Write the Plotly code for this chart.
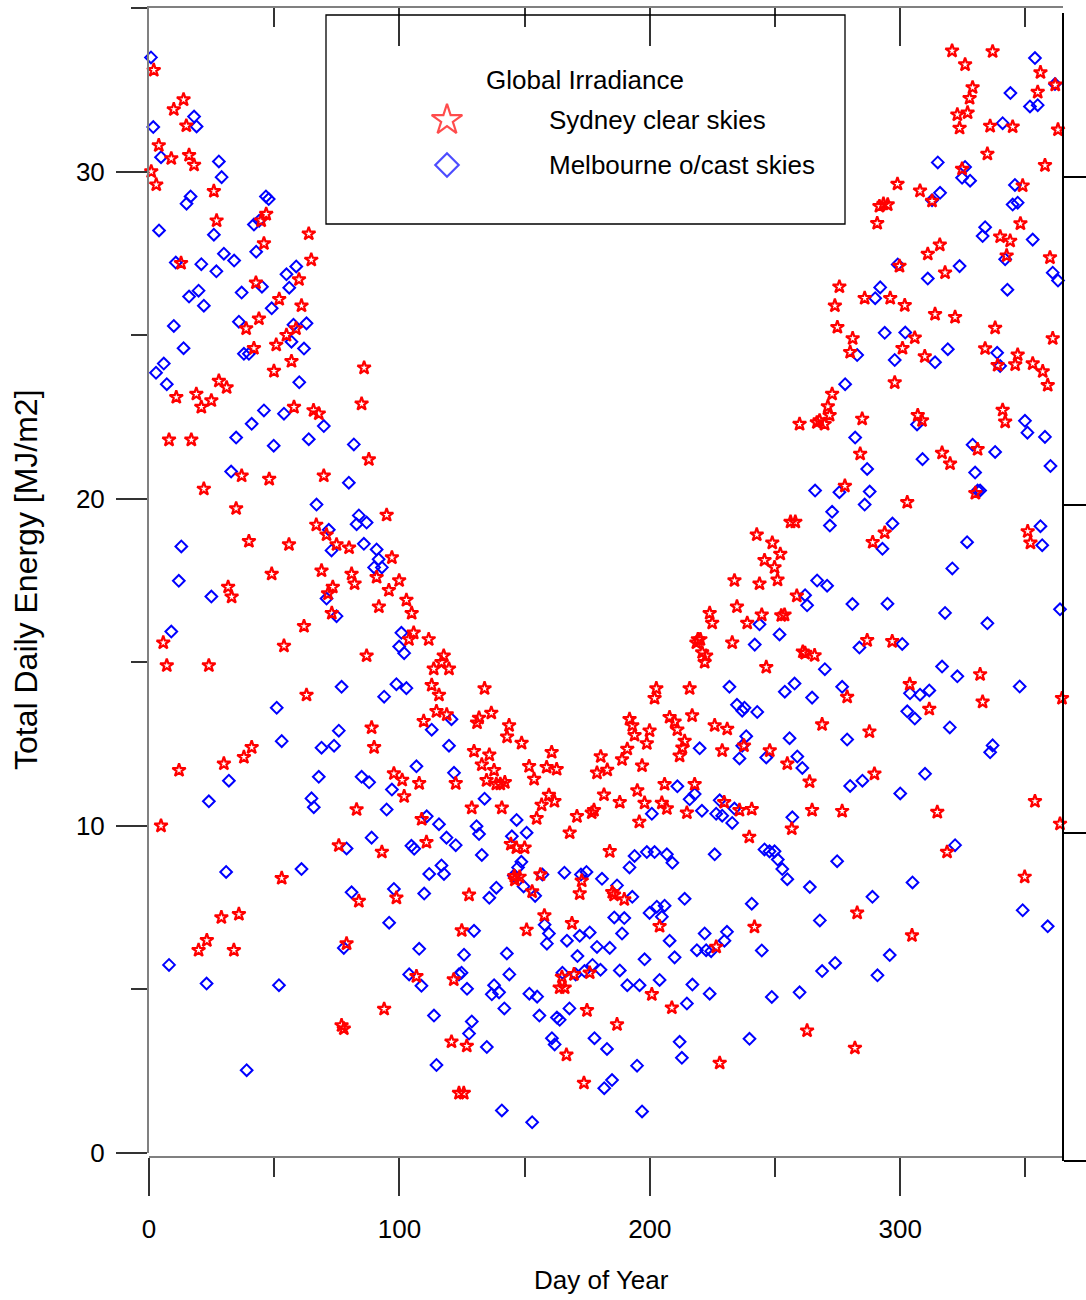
import plotly.graph_objects as go

# ---------------- data (day of year, total daily energy MJ/m2) ----------------
sydney = [
    (1.9,33.1),(13.8,32.2),(9.9,31.9),(14.9,31.4),(3.9,30.8),(8.9,30.4),(16.0,30.5),(18.0,30.2),(0.9,30.0),(2.9,29.6),
    (25.9,29.4),(27.0,28.5),(44.8,28.5),(46.8,28.7),(45.9,27.8),(63.8,28.1),(64.8,27.3),(12.8,27.2),(42.7,26.6),(59.9,26.7),
    (52.0,26.1),(60.9,25.9),(43.9,25.5),(38.8,25.2),(58.7,25.2),(54.9,25.0),(50.8,24.7),(41.9,24.6),(56.9,24.2),(49.9,23.9),
    (85.9,24.0),(27.9,23.6),(31.0,23.4),(18.9,23.2),(10.9,23.1),(24.9,23.0),(20.9,22.8),(84.9,22.9),(57.9,22.8),(65.7,22.7),
    (67.8,22.6),(8.0,21.8),(16.9,21.8),(87.8,21.2),(37.0,20.7),(48.0,20.6),(69.8,20.7),(21.9,20.3),(34.8,19.7),(94.9,19.5),
    (66.8,19.2),(70.9,18.9),(74.9,18.6),(79.9,18.5),(39.9,18.7),(55.9,18.6),(97.0,18.2),(49.0,17.7),(68.9,17.8),(80.9,17.7),
    (90.9,17.6),(99.9,17.5),(82.1,17.4),(31.6,17.3),(73.4,17.3),(95.8,17.2),
    (33.0,17.0),(71.5,17.1),(91.8,16.7),(102.8,16.9),(104.9,16.5),(105.7,15.9),(103.8,15.7),(111.7,15.7),(5.7,15.6),(7.1,14.9),
    (23.9,14.9),(53.9,15.5),(61.9,16.1),(62.9,14.0),(73.0,16.5),(86.9,15.2),(117.7,15.2),(116.8,15.0),(113.7,14.8),(119.8,14.8),
    (112.9,14.3),(115.8,14.0),(114.8,13.5),(118.9,13.4),(109.7,13.2),(88.9,13.0),(89.9,12.4),(41.0,12.4),(37.9,12.1),(29.9,11.9),
    (12.0,11.7),(97.8,11.6),(101.1,11.4),(107.9,11.3),(122.5,11.3),(101.9,10.9),(82.9,10.5),(108.9,10.2),(4.8,10.0),(110.8,9.5),
    (75.8,9.4),(93.0,9.2),(53.0,8.4),(98.8,7.8),(83.8,7.7),(35.9,7.3),(28.9,7.2),(23.1,6.5),(19.8,6.2),(33.9,6.2),
    (78.9,6.4),(106.8,5.4),(121.7,5.3),(93.9,4.4),(76.9,3.9),(77.8,3.8),(120.8,3.4),
    (233.8,17.5),(243.8,17.4),(234.8,16.7),(223.9,16.5),(224.9,16.2),(244.7,16.45),(238.9,16.2),(232.9,15.6),(219.2,15.7),(220.2,15.7),
    (218.6,15.6),(220.9,15.3),(222.5,15.2),(221.9,15.0),(246.5,14.85),(134.0,14.2),(202.6,14.2),(201.9,13.9),(215.9,14.2),(131.8,13.3),
    (131.0,13.15),(136.7,13.45),(143.8,13.07),(143.0,12.72),(191.9,13.26),(193.0,13.07),(193.9,12.77),(199.9,12.91),(198.8,12.52),(207.9,13.32),
    (209.9,13.18),(211.0,12.94),(213.9,12.59),(213.0,12.39),(211.9,12.14),(216.9,13.37),(225.9,13.07),(230.9,12.96),(228.9,12.3),(237.6,12.45),
    (148.8,12.53),(129.8,12.28),(135.9,12.17),(160.8,12.25),(191.0,12.35),(188.9,12.03),(180.4,12.12),(178.9,11.62),(183.0,11.71),(132.9,11.87),
    (151.8,11.82),(158.8,11.79),(162.8,11.73),(196.9,11.84),(137.8,11.7),(153.8,11.43),(134.8,11.39),(138.7,11.28),(140.3,11.28),(142.1,11.33),
    (195.0,11.08),(205.9,11.27),(217.9,11.27),(159.7,10.94),(161.9,10.75),(156.8,10.64),(128.9,10.55),(140.9,10.55),(181.7,10.95),(188.0,10.72),
    (197.9,10.7),(204.8,10.7),(206.8,10.53),(229.7,10.72),(235.8,10.48),(240.7,10.51),(214.8,10.4),(195.8,10.12),(177.7,10.48),(176.8,10.4),
    (170.9,10.29),(154.8,10.23),(168.0,9.79),(239.7,9.66),(144.5,9.44),(146.7,9.33),(150.0,9.33),(184.0,9.22),(145.9,8.46),(148.0,8.44),
    (146.1,8.35),(156.3,8.51),(172.8,8.32),(172.0,7.93),(153.0,7.99),(127.8,7.89),(185.0,7.97),(185.7,7.89),(189.8,7.75),(157.9,7.26),
    (124.9,6.8),(150.8,6.82),(168.9,7.02),(203.9,6.93),(241.8,6.91),(226.5,6.3),(164.9,5.38),(164.0,5.05),(166.0,5.05),(169.7,5.46),
    (176.0,5.51),(200.8,4.85),(208.8,4.44),(174.9,4.36),(186.9,3.93),(126.9,3.27),(166.7,3.0),(227.9,2.75),(173.7,2.14),(123.8,1.83),
    (125.7,1.83),(242.7,18.9),
    (320.7,33.69),(336.9,33.67),(325.9,33.27),(356.0,33.03),(361.9,32.65),(328.9,32.57),(327.7,32.24),(354.9,32.43),(322.8,31.74),(326.9,31.8),
    (323.7,31.33),(335.9,31.39),(344.9,31.37),(363.0,31.28),(334.8,30.54),(357.8,30.19),(324.7,30.08),(298.9,29.62),(307.9,29.41),(312.7,29.1),
    (348.9,29.57),(291.7,28.94),(293.3,29.01),(295.0,28.99),(290.8,28.42),(348.0,28.41),(339.9,28.01),(343.9,27.88),(315.8,27.76),(311.0,27.48),
    (359.8,27.37),(342.5,27.43),(299.7,27.11),(317.9,26.91),(275.7,26.48),(273.9,25.9),(285.8,26.13),(296.0,26.13),(301.8,25.91),(313.9,25.64),
    (321.9,25.55),(274.9,25.24),(337.9,25.22),(281.0,24.9),(280.0,24.48),(305.8,24.92),(300.9,24.6),(309.8,24.35),(360.9,24.9),(333.9,24.59),
    (346.9,24.4),(345.9,24.1),(338.9,24.08),(352.9,24.13),(356.9,23.89),(358.9,23.47),(297.8,23.55),(272.8,23.2),(271.1,22.82),(271.8,22.55),
    (259.8,22.28),(266.7,22.33),(267.8,22.39),(269.8,22.28),(284.8,22.44),(307.0,22.55),(308.7,22.39),(340.9,22.71),(341.9,22.35),(284.0,21.37),
    (316.7,21.4),(319.9,21.07),(330.9,21.51),(277.9,20.39),(302.8,19.89),(330.0,20.17),(256.2,19.29),(258.1,19.29),(293.8,18.96),(289.0,18.67),
    (350.9,19.0),(352.0,18.65),(248.9,18.65),(252.1,18.31),(245.8,18.12),(249.8,17.9),(251.0,17.52),
    (258.7,17.03),(252.5,16.43),(253.8,16.45),(261.1,15.32),(262.0,15.28),(265.8,15.21),(286.8,15.67),(296.8,15.64),(303.8,14.33),(331.9,14.63),
    (332.9,13.79),(364.6,13.9),(278.8,13.94),(311.6,13.57),(268.8,13.1),(287.7,12.88),(247.9,12.3),(254.9,11.9),(263.8,11.35),(289.7,11.59),
    (264.8,10.48),(276.8,10.45),(314.8,10.42),(353.8,10.75),(256.7,9.91),(363.8,10.06),(318.7,9.2),(349.7,8.44),(282.8,7.34),(304.7,6.65),
    (262.8,3.74),(281.9,3.21),
]

melbourne = [
    (0.8,33.49),(1.7,31.36),(18.0,31.68),(19.0,31.38),(4.8,30.44),(27.9,30.31),(29.0,29.83),(16.6,29.24),(15.0,29.02),(46.7,29.24),
    (47.8,29.16),(4.0,28.2),(25.9,28.07),(41.9,28.38),(44.0,28.5),(42.8,27.55),(29.9,27.49),(34.0,27.28),(10.7,27.22),(20.9,27.17),
    (26.9,26.95),(54.9,26.86),(58.8,27.1),(56.0,26.45),(45.1,26.48),(37.0,26.3),(19.8,26.36),(16.0,26.18),(21.9,25.9),(49.0,25.82),
    (9.9,25.28),(35.9,25.41),(57.7,25.32),(62.9,25.36),(56.9,24.8),(61.9,24.59),(13.8,24.6),(37.9,24.43),(39.9,24.43),(5.9,24.13),
    (2.8,23.85),(7.1,23.5),(60.0,23.56),(45.9,22.7),(41.0,22.29),(53.9,22.6),(69.8,22.22),(34.8,21.87),(49.8,21.62),(63.8,21.82),
    (81.8,21.66),(79.8,20.49),(32.8,20.83),(66.9,19.82),(83.8,19.49),(82.9,19.22),(86.9,19.27),(71.8,19.05),(72.9,18.42),(85.8,18.62),
    (90.9,18.45),(91.7,18.15),(89.9,17.9),(93.0,17.9),(12.9,18.54),(11.9,17.49),
    (24.9,17.01),(8.9,15.94),(76.9,14.25),(51.0,13.61),(93.9,13.95),(98.8,14.33),(102.8,14.21),(100.8,15.9),(99.9,15.48),(101.9,15.28),
    (70.9,16.95),(74.9,16.41),(53.0,12.59),(75.8,12.91),(68.9,12.39),(73.9,12.45),(67.8,11.5),(64.9,10.84),(65.8,10.57),(31.9,11.38),
    (23.9,10.75),(84.9,11.5),(87.9,11.33),(97.0,11.11),(94.9,10.5),(106.8,11.82),(112.9,12.94),(120.8,13.26),(119.8,12.45),(121.8,11.62),
    (110.9,10.29),(115.8,10.05),(118.8,9.64),(122.5,9.41),(88.9,9.64),(78.9,9.31),(104.8,9.39),(105.9,9.3),(116.8,8.79),(117.8,8.53),
    (111.9,8.53),(109.9,7.93),(97.8,8.07),(80.9,7.97),(60.9,8.68),(30.8,8.59),(95.9,7.04),(77.8,6.27),(107.9,6.24),(103.9,5.46),
    (108.8,5.11),(8.0,5.75),(23.0,5.18),(51.9,5.13),(113.8,4.2),(114.8,2.69),(39.0,2.53),
    (243.8,16.16),(241.9,15.54),(231.8,14.25),(234.8,13.7),(237.8,13.61),(236.9,13.52),(242.9,13.48),(238.5,12.74),(236.9,12.45),(235.8,12.06),
    (246.5,12.09),(219.9,12.37),(134.0,10.83),(211.0,11.21),(217.9,10.97),(215.9,10.81),(200.8,10.37),(220.8,10.46),(227.9,10.78),(226.5,10.37),
    (228.9,10.31),(233.8,10.53),(232.9,10.09),(130.8,9.99),(131.8,9.75),(146.8,10.18),(144.9,9.68),(150.8,9.79),(132.9,9.11),(148.7,8.9),
    (147.4,8.73),(145.7,8.48),(149.6,8.15),(138.7,8.11),(135.9,7.8),(154.2,7.86),(157.1,8.51),(165.9,8.57),(172.5,8.51),(174.7,8.59),
    (180.9,8.38),(186.9,8.18),(193.0,7.83),(191.9,8.73),(193.9,9.08),(198.8,9.2),(201.9,9.2),(206.8,9.13),(209.0,8.87),(225.9,9.13),
    (213.9,7.77),(240.7,7.62),(199.9,7.34),(202.8,7.53),(205.9,7.56),(204.8,7.22),(185.8,7.2),(189.8,7.18),(188.9,6.71),(158.0,6.98),
    (159.7,6.71),(158.9,6.4),(166.9,6.49),(172.0,6.64),(176.0,6.74),(171.1,6.02),(178.9,6.3),(184.0,6.27),(207.9,6.49),(221.9,6.71),
    (230.8,6.76),(229.8,6.49),(218.8,6.2),(222.5,6.2),(224.5,6.17),(244.7,6.19),(197.9,5.92),(209.9,5.98),(125.8,6.06),(129.8,6.79),
    (142.9,6.1),(143.9,5.46),(124.8,5.51),(123.8,5.46),(127.0,5.02),(137.8,5.13),(136.9,4.85),(139.8,4.91),(141.9,4.42),(151.9,4.87),
    (155.0,4.78),(155.9,4.2),(162.9,4.14),(164.0,4.07),(167.9,4.42),(165.1,5.51),(170.4,5.46),(173.9,5.56),(177.1,5.75),(180.3,5.6),
    (188.0,5.58),(191.0,5.13),(195.9,5.13),(203.9,5.29),(217.0,5.15),(214.8,4.57),(223.9,4.87),(127.8,3.65),(128.9,4.02),(134.9,3.24),
    (160.9,3.51),(162.0,3.32),(177.9,3.51),(182.9,3.18),(194.9,2.67),(211.9,3.4),(212.8,2.91),(239.8,3.49),(181.8,1.98),(184.9,2.23),
    (140.9,1.3),(196.9,1.27),(153.0,0.94),
    (353.8,33.47),(361.8,32.68),(344.0,32.4),(351.8,31.99),(354.9,32.03),(340.9,31.48),(315.0,30.28),(325.9,30.14),(324.7,29.81),(327.9,29.72),
    (345.8,29.59),(344.9,28.99),(346.9,29.05),(315.9,29.35),(312.7,29.12),(333.9,28.3),(332.9,28.03),(352.9,27.92),(341.9,27.32),(360.9,26.91),
    (363.0,26.67),(299.0,27.16),(323.7,27.11),(311.0,26.73),(292.0,26.46),(290.0,26.13),(342.8,26.39),(293.8,25.07),(302.0,25.08),(282.8,24.39),
    (297.8,24.24),(313.9,24.17),(319.0,24.57),(338.7,24.46),(339.9,24.06),(278.0,23.5),(349.8,22.38),(350.8,22.02),(357.8,21.89),(360.0,21.0),
    (306.7,22.27),(328.9,21.65),(337.9,21.43),(282.0,21.87),(308.9,21.21),(329.9,20.8),(330.9,20.25),(331.9,20.25),(286.8,20.91),(266.0,20.25),
    (275.7,20.2),(287.8,20.22),(285.8,19.82),(272.8,19.6),(271.9,19.18),(296.9,19.24),(292.9,18.47),(326.7,18.67),(356.0,19.16),(356.7,18.58),
    (320.8,17.87),(266.8,17.5),(270.8,17.34),
    (262.0,17.05),(262.8,16.74),(280.9,16.78),(294.9,16.79),(317.9,16.51),(334.8,16.19),(363.8,16.62),(251.8,15.85),(283.7,15.45),(300.8,15.56),
    (269.9,14.79),(316.7,14.87),(322.8,14.57),(347.7,14.26),(253.9,14.1),(257.8,14.35),(264.8,13.92),(276.8,14.25),(303.9,14.05),(307.9,14.01),
    (311.6,14.14),(302.8,13.5),(305.8,13.28),(319.8,13.01),(255.8,12.68),(278.8,12.64),(336.9,12.46),(335.9,12.25),(258.9,12.12),(260.9,11.77),
    (280.0,11.22),(284.9,11.38),(309.9,11.59),(300.0,10.99),(256.9,10.26),(245.8,9.28),(247.8,9.22),(249.8,9.22),(251.1,8.97),(252.9,8.68),
    (254.9,8.37),(263.9,8.13),(274.8,8.92),(321.9,9.41),(304.9,8.27),(288.9,7.83),(267.9,7.11),(348.9,7.42),(358.9,6.93),(268.8,5.56),
    (274.0,5.81),(295.8,6.05),(290.9,5.43),(259.8,4.91),(248.7,4.77),
]

sydney_day = [p[0] for p in sydney]
sydney_mj = [p[1] for p in sydney]
melbourne_day = [p[0] for p in melbourne]
melbourne_mj = [p[1] for p in melbourne]

x_range = [0, 365]
y_range = [0, 35]
x_major = 100
x_minor = 50
y_major = 10
y_minor = 5

legend_title = "Global Irradiance"
series_names = ["Sydney clear skies", "Melbourne o/cast skies"]
x_title = "Day of Year"
y_title = "Total Daily Energy [MJ/m2]"

# ---------------- layout geometry ----------------
W, H = 1086, 1300
L, R, T, B = 149, 23, 8, 139
PW = W - L - R
PH = H - T - B


def fx(px):
    return (px - L) / PW


def fy(py):
    return (H - B - py) / PH


NARROW = "Liberation Sans Narrow, Arial Narrow, Liberation Sans, Arial, sans-serif"
WIDE = "Liberation Sans, Arial, sans-serif"
TXT = 26
TICK_TXT = 26
RED = "#ff0000"
BLUE = "#0000ff"
AXIS_GRAY = "#808080"
TICK_COL = "#333333"

fig = go.Figure()

fig.add_trace(go.Scatter(
    x=melbourne_day, y=melbourne_mj, mode="markers", name=series_names[1],
    marker=dict(symbol="diamond-open", size=9, color=BLUE, line=dict(width=2, color=BLUE)),
    showlegend=False, cliponaxis=False,
))
fig.add_trace(go.Scatter(
    x=sydney_day, y=sydney_mj, mode="markers", name=series_names[0],
    marker=dict(symbol="star-open", size=10, color=RED, line=dict(width=2.2, color=RED)),
    showlegend=False, cliponaxis=False,
))

# empty traces so that the mirrored top axis and the right-hand axis get drawn
fig.add_trace(go.Scatter(x=[], y=[], xaxis="x2", yaxis="y", showlegend=False, hoverinfo="skip"))
fig.add_trace(go.Scatter(x=[], y=[], xaxis="x", yaxis="y2", showlegend=False, hoverinfo="skip"))

# legend keys (drawn on a hidden full-paper axis pair)
key_x = fx(447)
key_y = [fy(120), fy(165)]
fig.add_trace(go.Scatter(
    x=[key_x, key_x], y=key_y, xaxis="x3", yaxis="y3", mode="markers",
    marker=dict(symbol=["star-open", "diamond-open"], size=[23, 18], color=[RED, BLUE],
                line=dict(width=2.2, color=[RED, BLUE])),
    showlegend=False, hoverinfo="skip", cliponaxis=False,
))

fig.update_layout(
    width=W, height=H,
    margin=dict(l=L, r=R, t=T, b=B, autoexpand=False),
    paper_bgcolor="white", plot_bgcolor="rgba(0,0,0,0)",
    showlegend=False,
    xaxis=dict(
        range=x_range, domain=[0, 1], anchor="free", position=fy(1157),
        showgrid=False, zeroline=False,
        showline=True, linecolor=AXIS_GRAY, linewidth=2,
        ticks="outside", ticklen=38, tickwidth=1.5, tickcolor=TICK_COL,
        tickmode="linear", tick0=0, dtick=x_major,
        minor=dict(ticks="outside", ticklen=19, tickwidth=1.5, tickcolor=TICK_COL, tick0=0, dtick=x_minor, showgrid=False),
        tickfont=dict(family=NARROW, size=TICK_TXT, color="black"),
        ticklabelstandoff=11,
    ),
    xaxis2=dict(
        range=x_range, overlaying="x", side="top", anchor="y",
        showgrid=False, zeroline=False,
        showline=True, linecolor=AXIS_GRAY, linewidth=2,
        ticks="inside", ticklen=38, tickwidth=1.5, tickcolor=TICK_COL,
        tickmode="linear", tick0=0, dtick=x_major,
        minor=dict(ticks="inside", ticklen=19, tickwidth=1.5, tickcolor=TICK_COL, tick0=0, dtick=x_minor, showgrid=False),
        showticklabels=False,
    ),
    yaxis=dict(
        range=y_range, domain=[fy(1153), fy(8)], anchor="x",
        showgrid=False, zeroline=False,
        showline=True, linecolor=AXIS_GRAY, linewidth=2,
        ticks="outside", ticklen=31, tickwidth=1.5, tickcolor=TICK_COL,
        tickmode="linear", tick0=0, dtick=y_major,
        minor=dict(ticks="outside", ticklen=16, tickwidth=1.5, tickcolor=TICK_COL, tick0=0, dtick=y_minor, showgrid=False),
        tickfont=dict(family=NARROW, size=TICK_TXT, color="black"),
        ticklabelstandoff=6,
    ),
    yaxis2=dict(
        range=y_range, domain=[fy(1161), fy(13)], anchor="free", position=1, side="right",
        showgrid=False, zeroline=False,
        showline=True, linecolor="black", linewidth=1.5,
        ticks="outside", ticklen=23, tickwidth=1.5, tickcolor="black",
        tickmode="linear", tick0=0, dtick=y_major,
        showticklabels=False,
    ),
    xaxis3=dict(range=[0, 1], domain=[0, 1], anchor="y3", visible=False, fixedrange=True),
    yaxis3=dict(range=[0, 1], domain=[0, 1], anchor="x3", visible=False, fixedrange=True),
    shapes=[
        dict(type="rect", xref="paper", yref="paper",
             x0=fx(326), x1=fx(845), y0=fy(224), y1=fy(15),
             line=dict(color="black", width=1.3), fillcolor="rgba(0,0,0,0)", layer="above"),
    ],
    annotations=[
        dict(text=legend_title, xref="paper", yref="paper", x=fx(585), y=fy(80),
             xanchor="center", yanchor="middle", showarrow=False,
             font=dict(family=NARROW, size=TXT, color="black")),
        dict(text=series_names[0], xref="paper", yref="paper", x=fx(547), y=fy(120),
             xanchor="left", yanchor="middle", showarrow=False,
             font=dict(family=NARROW, size=TXT, color="black")),
        dict(text=series_names[1], xref="paper", yref="paper", x=fx(547), y=fy(165),
             xanchor="left", yanchor="middle", showarrow=False,
             font=dict(family=NARROW, size=TXT, color="black")),
        dict(text=x_title, xref="paper", yref="paper", x=fx(601), y=fy(1280),
             xanchor="center", yanchor="middle", showarrow=False,
             font=dict(family=NARROW, size=TXT, color="black")),
        dict(text=y_title, xref="paper", yref="paper", x=fx(26), y=fy(580),
             xanchor="center", yanchor="middle", showarrow=False, textangle=-90,
             font=dict(family=WIDE, size=32, color="black")),
    ],
)

fig.write_html("out.html")
